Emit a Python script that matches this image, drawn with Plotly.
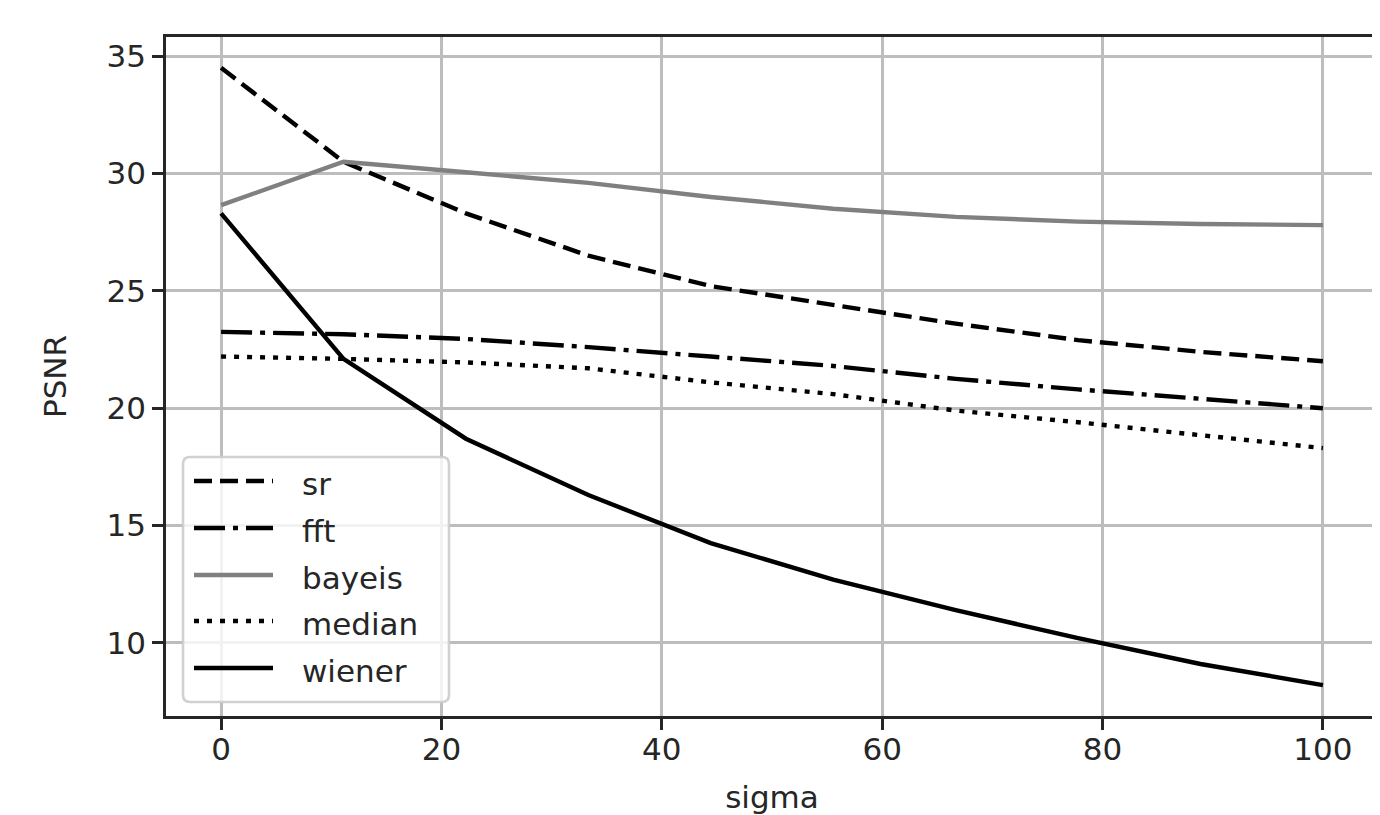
import plotly.graph_objects as go

# ---- data ----
sigma = [0, 11.11, 22.22, 33.33, 44.44, 55.56, 66.67, 77.78, 88.89, 100]
sr = [34.5, 30.5, 28.3, 26.5, 25.2, 24.4, 23.6, 22.9, 22.4, 22.0]
fft = [23.25, 23.15, 22.95, 22.6, 22.2, 21.8, 21.25, 20.8, 20.4, 20.0]
bayeis = [28.65, 30.5, 30.05, 29.6, 29.0, 28.5, 28.15, 27.95, 27.85, 27.8]
median = [22.2, 22.1, 21.95, 21.7, 21.1, 20.6, 19.9, 19.4, 18.85, 18.3]
wiener = [28.3, 22.1, 18.7, 16.3, 14.25, 12.7, 11.4, 10.2, 9.1, 8.2]
xticks = [0, 20, 40, 60, 80, 100]
yticks = [10, 15, 20, 25, 30, 35]

# page body has an 8px margin; compensate so the plot lands where the reference has it
OFF = 8
W, H = 1380 - OFF, 815 - OFF
L, R, T = 166 - OFF, 2, 37 - OFF
B = H - (716 - OFF)
PW, PH = W - L - R, H - T - B
FONT = "DejaVu Sans"
LW = 4.4
FS = 31
GRID = "#bdbdbd"

series = [
    ("sr", sr, "black", "18px,8px"),
    ("fft", fft, "black", "31px,8px,5px,8px"),
    ("bayeis", bayeis, "#808080", "solid"),
    ("median", median, "black", "5px,8px"),
    ("wiener", wiener, "black", "solid"),
]

fig = go.Figure()
for name, vals, col, dash in series:
    fig.add_trace(go.Scatter(x=sigma, y=vals, mode="lines", name=name,
                             line=dict(color=col, width=LW, dash=dash),
                             showlegend=False))

allv = sr + fft + bayeis + median + wiener
lo, hi = min(allv), max(allv)
pad = (hi - lo) * 0.05
xr = [-5, 105]
yr = [lo - pad, hi + pad]

axis_common = dict(showgrid=True, gridcolor=GRID, gridwidth=2.6,
                   showline=True, linecolor="#262626", linewidth=2.6, mirror=True,
                   ticks="outside", ticklen=11, tickwidth=2.6, tickcolor="#262626",
                   zeroline=False,
                   tickfont=dict(family=FONT, size=FS, color="#262626"))

fig.update_xaxes(range=xr, tickvals=xticks, ticktext=[str(v) for v in xticks],
                 ticklabelstandoff=-7,
                 title=dict(text="sigma", font=dict(family=FONT, size=FS, color="#262626"),
                            standoff=21),
                 **axis_common)
fig.update_yaxes(range=yr, tickvals=yticks, ticktext=[str(v) for v in yticks],
                 title=dict(text="PSNR", font=dict(family=FONT, size=FS, color="#262626"),
                            standoff=31),
                 **axis_common)

# ---- custom legend (matplotlib-like), positions in reference page pixels ----
def px(x):
    return (x - OFF - L) / PW

def py(y):
    return (H - B - (y - OFF)) / PH

bx0, bx1, by0, by1 = 183, 449, 457, 702
r = 7
rx, ry = r / PW, r / PH
x0, x1, y0, y1 = px(bx0), px(bx1), py(by1), py(by0)
path = (f"M{x0+rx},{y0} L{x1-rx},{y0} Q{x1},{y0} {x1},{y0+ry} "
        f"L{x1},{y1-ry} Q{x1},{y1} {x1-rx},{y1} L{x0+rx},{y1} "
        f"Q{x0},{y1} {x0},{y1-ry} L{x0},{y0+ry} Q{x0},{y0} {x0+rx},{y0} Z")
shapes = [dict(type="path", xref="paper", yref="paper", path=path,
               fillcolor="rgba(255,255,255,0.8)",
               line=dict(color="rgba(204,204,204,0.9)", width=2.6), layer="above")]
annotations = []
row_y = [481, 528, 575, 621, 668]
for (name, vals, col, dash), yy in zip(series, row_y):
    shapes.append(dict(type="line", xref="paper", yref="paper",
                       x0=px(194), x1=px(273), y0=py(yy), y1=py(yy),
                       line=dict(color=col, width=LW, dash=dash), layer="above"))
    annotations.append(dict(xref="paper", yref="paper", x=px(300), y=py(yy + 3),
                            text=name, showarrow=False, xanchor="left", yanchor="middle",
                            font=dict(family=FONT, size=FS, color="#262626")))

fig.update_layout(width=W, height=H, margin=dict(l=L, r=R, t=T, b=B, autoexpand=False),
                  paper_bgcolor="white", plot_bgcolor="white",
                  shapes=shapes, annotations=annotations, showlegend=False)

fig.write_html("out.html")
